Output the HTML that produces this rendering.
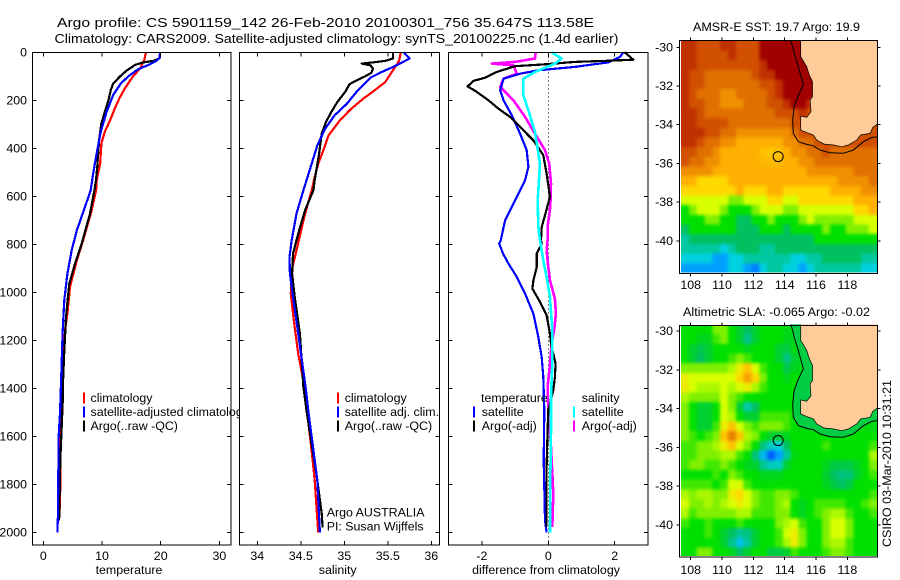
<!DOCTYPE html>
<html lang="en">
<head>
<meta charset="utf-8">
<title>Argo profile</title>
<style>
html,body{margin:0;padding:0;background:#fff;}
svg{display:block;font-family:"Liberation Sans",sans-serif;font-size:12.4px;fill:#000;}
</style>
</head>
<body>
<svg id="chart" xmlns="http://www.w3.org/2000/svg" width="900" height="580" viewBox="0 0 900 580">
  <defs>
    <clipPath id="legend-clip"><rect x="0" y="0" width="239" height="580"></rect></clipPath>
    <clipPath id="sst-clip"><rect x="681" y="41" width="196.5" height="231.5"></rect></clipPath>
    <clipPath id="sla-clip"><rect x="681" y="326" width="196.5" height="230"></rect></clipPath>
    <filter id="map-smooth" x="-10%" y="-10%" width="120%" height="120%" color-interpolation-filters="sRGB"><feGaussianBlur stdDeviation="1.7"></feGaussianBlur></filter>
  </defs>
  <rect x="0" y="0" width="900" height="580" fill="#fff"></rect>
</svg>
<script>
// ---- Tick labels ----
const depthTicks = [0,200,400,600,800,1000,1200,1400,1600,1800,2000];
const tempTicks = [0,10,20,30];
const salTicks = [34,34.5,35,35.5,36];
const diffTicks = [-2,0,2];
const lonTicks = [108,110,112,114,116,118];
const latTicks = [-30,-32,-34,-36,-38,-40];

// ---- Temperature panel ----
const climTempDepth = [0,32,67,100,150,190,233,282,330,379,462,532,575,658,783,867,978,1089,1158,1367,1575,1812,1940];
const climTemp = [17.5,17.2,16.5,15.3,13.9,13,12.2,11.4,10.5,9.9,9.7,9.1,9,8.24,6.8,5.7,4.55,4.1,3.7,3.3,2.9,2.9,2.75];
const argoTempDepth = [0,25,36,42,53,76,100,130,157,199,247,296,365,476,530,575,672,797,881,964,1103,1270,1408,1458,1700,1900,1950];
const argoTemp = [19.9,19.8,18.75,17,15.6,14.2,13.1,11.9,11.5,11.1,10.5,9.9,9.5,9.2,9,8.7,7.95,6.54,5.4,4.43,3.87,3.53,3.3,3.3,2.9,2.75,2.7];
const satTempDepth = [0,20,35,53,70,100,130,178,247,330,421,504,575,644,742,825,922,1033,1158,1394,1504,1604,1771,1921,2000];
const satTemp = [19.9,19.9,19.3,17.9,16.2,14.5,13.2,11.9,10.8,9.8,9.1,8.5,8.07,7.1,5.7,4.84,4.1,3.58,3.3,3,2.85,2.6,2.55,2.5,2.4];

// ---- Salinity panel ----
const climSalDepth = [0,36,75,124,158,193,235,283,346,408,464,519,575,672,825,908,1006,1117,1256,1367,1504,1644,1783,2000];
const climSal = [35.65,35.63,35.56,35.47,35.35,35.22,35.08,34.95,34.82,34.76,34.7,34.66,34.625,34.55,34.45,34.395,34.385,34.42,34.47,34.53,34.575,34.62,34.66,34.7];
const argoSalDepth = [0,26,36,42,47,54,68,86,100,117,133,165,207,249,290,339,422,533,575,658,756,839,922,1019,1172,1394,1504,1783,1921,1979];
const argoSal = [35.56,35.56,35.47,35.33,35.2,35.3,35.33,35.31,35.24,35.14,35.06,35.01,34.92,34.85,34.79,34.74,34.71,34.66,34.645,34.55,34.47,34.41,34.4,34.43,34.49,34.53,34.57,34.69,34.74,34.75];
const satSalDepth = [0,26,58,82,106,165,214,262,318,388,471,575,672,783,853,922,1019,1172,1408,1504,1644,1783,2000];
const satSal = [35.68,35.75,35.58,35.43,35.3,35.14,35.03,34.89,34.78,34.69,34.62,34.53,34.45,34.395,34.37,34.375,34.41,34.47,34.56,34.59,34.64,34.69,34.72];

// ---- Difference panel ----
const diffTempSatDepth = [0,19,42,61,75,89,110,158,200,262,339,408,478,533,631,700,783,797,839,881,936,1006,1089,1186,1270,1353,1492,1700,1950,2000];
const diffTempSat = [2.26,2.16,1.8,0.8,-0.3,-0.85,-1.35,-1.45,-1.35,-1.1,-0.85,-0.65,-0.6,-0.7,-1.05,-1.3,-1.43,-1.48,-1.36,-1.2,-0.95,-0.7,-0.45,-0.3,-0.2,-0.15,-0.12,-0.14,-0.1,-0.05];
const diffTempArgoDepth = [0,31,36,40,50,58,82,106,119,142,161,200,235,269,318,367,429,505,603,679,728,783,797,839,895,950,985,1040,1096,1173,1214,1256,1298,1353,1409,1492,1575,1728,1978];
const diffTempArgo = [2.3,2.56,1.7,0.8,-0.1,-1,-1.56,-1.9,-2.26,-2.43,-2.2,-1.8,-1.5,-1.15,-0.8,-0.45,-0.15,-0.05,0.05,-0.1,-0.2,-0.22,-0.2,-0.35,-0.35,-0.45,-0.48,-0.25,-0.05,0.05,0.08,0.15,0.22,0.2,0.15,0,-0.02,-0.05,-0.05];
const diffSalSatDepth = [0,26,47,82,110,179,242,332,464,617,728,783,867,936,1020,1159,1298,1436,1575,1784,2000];
const diffSalSat = [0.1,0.4,0.2,-0.4,-0.75,-0.75,-0.6,-0.4,-0.25,-0.32,-0.3,-0.25,-0.15,-0.05,0.05,0.12,0.12,0.08,0.08,0.06,0.05];
const diffSalArgoDepth = [0,26,40,47,54,89,110,144,200,269,339,408,464,547,644,728,783,825,895,950,1027,1089,1152,1214,1298,1395,1492,1645,1839,1978];
const diffSalArgo = [-0.38,-0.4,-1,-1.7,-1.05,-0.95,-1.35,-1.45,-1.05,-0.7,-0.4,-0.1,0.03,0.08,0.06,-0.02,-0.02,-0.05,0,0.05,0.2,0.23,0.18,0.1,0.05,-0.02,0,0.08,0.15,0.12];

// ---- Map data: colour levels on a 0.5 degree grid, north to south, west to east; null = land ----
const _ = null;
const sstLevels = [
[13,13,12,12,12,13,13,12,12,12,14,14,14,14,14,_,_,_,_,_,_,_,_,_,_],
[13,13,12,12,12,12,13,12,12,12,14,14,14,14,14,_,_,_,_,_,_,_,_,_,_],
[13,13,12,12,12,12,12,12,12,12,13,14,14,14,14,14,_,_,_,_,_,_,_,_,_],
[13,12,12,11,11,11,11,11,11,12,13,13,14,14,14,14,_,_,_,_,_,_,_,_,_],
[13,12,12,11,11,11,11,11,11,11,12,12,13,14,14,14,14,_,_,_,_,_,_,_,_],
[13,12,11,11,11,10,10,11,11,11,11,12,13,14,14,14,14,_,_,_,_,_,_,_,_],
[13,12,12,11,11,10,10,10,11,11,11,12,12,13,14,14,13,_,_,_,_,_,_,_,_],
[13,13,12,11,11,11,11,11,11,11,11,11,12,12,12,13,12,_,_,_,_,_,_,_,_],
[13,13,12,12,12,12,11,11,11,11,11,11,11,11,12,12,_,_,_,_,_,_,_,_,_],
[13,13,13,12,12,11,11,10,10,10,10,10,10,10,11,12,12,12,_,_,_,_,_,_,12],
[13,13,12,11,11,10,10,9,9,9,9,9,9,10,10,11,11,12,12,12,12,12,12,12,12],
[12,12,11,11,10,9,9,9,9,9,8.6,8.5,8.6,9,10,10,11,11,12,11,11,11,11,11,11],
[12,11,11,10,10,9,9,9,9,9,8.8,8.7,8.8,9,9,10,10,11,11,11,11,11,11,11,11],
[10,10,10,10,9,9,9,9,9,9,9,9,9,9,9,9,10,10,10,10,10,10,11,11,11],
[9,9,8,8,8,8,9,9,9,9,9,9,9,9,9,9,9,9,9,9,10,10,10,10,11],
[8,8,8,8,8,8,8,9,8,8,8,9,9,8,8,8,8,8,8,9,9,9,9,10,10],
[7,7,7,7,7,7,6,6,7,7,7,8,8,7,7,8,8,8,8,8,8,8,9,9,9],
[5,6,7,7,7,6,5,5,5,6,7,7,7,6,6,7,7,7,7,7,7,7,8,8,9],
[5,5,5,6,6,5,5,4,4,5,5,6,5,5,5,6,7,6,6,6,6,6,7,7,7],
[4,5,5,5,5,5,5,4,4,4,5,5,5,4,5,5,5,5,6,5,5,6,6,6,7],
[3,4,4,4,4,4,4,4,4,4,4,4,4,4,4,4,4,5,5,5,5,5,5,5,5],
[3,3,3,3,3,2,3,4,4,4,3,3,4,4,4,4,4,4,4,4,4,4,4,4,4],
[2,2,2,2,1,1,2,2,3,3,3,3,3,3,2,2,3,3,4,4,4,4,4,3,3],
[1,1,1,1,1,1,2,2,1,0.5,2,3,3,2,2,1,2,3,3,3,3,3,3,2,2]
];
const slaLevels = [
[5,5,5,5,6,6,5,4.5,4,4.5,5,5,5,4.8,4.8,_,_,_,_,_,_,_,_,_,_],
[5,5,4.7,4.7,5.5,6,5,4.5,3.3,4.5,5,5,5,4.7,4.7,_,_,_,_,_,_,_,_,_,_],
[5,4.5,4.2,4.5,5,5,5,5,4.7,5,5,5,4.5,4.3,4.8,4.8,_,_,_,_,_,_,_,_,_],
[5,4.5,4,4.5,5,5,5.5,6,5.5,5,5,5,4.5,3.4,4.5,4.8,_,_,_,_,_,_,_,_,_],
[6,6,6,6,6,6,6.5,7.5,8.5,7,5.5,5,5,4.2,4.7,4.8,4.8,_,_,_,_,_,_,_,_],
[7.5,7,7,7,7,7,7,8,9.5,8,6,5,5,4.7,5,4.8,4.8,_,_,_,_,_,_,_,_],
[7.5,7,6.5,6.5,6.5,7,6.5,7,7.5,6.5,5.5,5,5,5,5,5,4.8,_,_,_,_,_,_,_,_],
[6.5,6,6,6,6,7,6,5.5,5,5,5,5,5,5,5,5,4.8,_,_,_,_,_,_,_,_],
[6,5,4.5,4.5,5,7,6,4.5,2.8,4,5,5,5,5,5,5,_,_,_,_,_,_,_,_,_],
[6,5,4.5,4.5,5,7,6.5,5,4.5,4.5,5.5,5.5,5.5,5.5,5,4.8,4.8,4.8,_,_,_,_,_,_,4.8],
[6,5,4.5,4.5,5.5,7.5,8.5,7,6,5.5,6,6,6,5.5,5,4.8,4.8,4.8,4.8,4.8,4.8,4.8,4.8,4.8,4.8],
[6,5.5,5,5.5,6,8.5,10.5,8.5,6.5,6,5,4.5,4.5,4.7,5,5,5,5,5,5,5,5,5,5,5],
[5.5,5.5,6,6,6.5,7.5,8.5,7,6,5,3.5,2.5,2,4,5,5,5,5,5.5,5,5,5,5,5,5.5],
[5.5,5.5,6,6,6,6.5,6.5,5.5,5,3.5,1.5,0,1,3,4.8,5,5,5,5,5,5,5,5,5,6.5],
[5.5,6,6,5.5,5.5,6,5.5,5,4.7,4.5,3.2,2.5,2.5,4.5,5,5,5,5,4.7,4.3,4.3,4.3,4.7,5,6],
[5,5,5,5,5.5,5,6,5.5,5,5,4.7,4.7,4.7,5,5,5,5,5,4.5,4,3.5,3.6,4.5,5,5.5],
[5.5,5.5,5.5,5.5,5,5.5,7,7,5.5,5,5,5,5,5,5,5,5,5,4.7,4.3,4,4.3,5,5,5],
[6.5,6,6.5,6.5,6,6,7.5,8,7,6,5.5,5.5,6,6,5.5,5,5,5,5,5,5,5,5,5,5.5],
[7,6,6,6.5,6,6.5,7,7.5,7,6,5.5,5.5,6,6.5,5,4.7,5,5.5,5.5,5.5,5.5,5,5,5.5,6],
[6.5,5.5,6,6,6,6,6,6.5,6.5,5.5,5.5,5.5,6,6,5,4.7,5,5.5,6,6.5,6.5,5.5,5,5,5.5],
[5.5,5,5,5.5,5,5,5,5.5,5,5,5,5,6,6.5,7,5.5,5,5,6,7,7,6,5,5,5],
[5,5,5,5.5,5,4.5,4,3.2,3.5,4.5,5,5,5.5,7,7.5,6,5,5,6,7,7,6,5,5,5],
[5,5,5,5,5,4.5,3.2,1.7,3,4.5,5,5,5.5,6.5,7.5,6,5,5,6,6.5,6.5,5.5,5,5,5],
[5,5,6,6,5,5,4.7,4,4.5,5,5,4.3,4.3,4.5,5.5,5,5,5,5.5,6,6,5.5,5,5,5]
];
const coastLon = [115.02,115.02,115.4,115.57,115.77,115.77,115.62,115.68,115.4,115.02,115.02,115.4,115.83,116.04,116.51,117.11,117.64,118.06,118.6,118.85,119.45,119.62,119.91];
const coastLat = [-29.66,-30.48,-31,-31.43,-31.78,-32.55,-32.72,-33.33,-33.62,-33.55,-34.28,-34.41,-34.53,-34.79,-35,-35.05,-35.14,-35.05,-34.79,-34.53,-34.45,-34.14,-33.97];
const contourLon = [114.38,114.51,114.6,114.81,114.98,115.19,114.87,114.6,114.51,114.55,114.87,115.4,115.83,116.26,116.89,117.74,118.38,119.02,119.55,119.91];
const contourLat = [-29.66,-29.97,-30.31,-30.83,-31.34,-31.95,-32.47,-33.07,-33.76,-34.45,-34.88,-35.02,-35.09,-35.31,-35.45,-35.48,-35.31,-34.88,-34.66,-34.62];
const argoLon = 113.58;
const argoLat = -35.647;

// ---- Colour scale for the map levels ----
const paletteStops = ['#0060ff','#00a0ff','#00d0e0','#00c8a0','#00c060','#00e000','#80f000','#d8ff00','#ffd800','#ffb000','#f09000','#e07000','#d05000','#c03000','#a00000'];

const svg = document.getElementById('chart');
const NS = 'http://www.w3.org/2000/svg';
function make(tag, attrs, parent) {
  const e = document.createElementNS(NS, tag);
  for (const k in attrs) e.setAttribute(k, attrs[k]);
  (parent || svg).appendChild(e);
  return e;
}
function levelColor(v) {
  const i = Math.max(0, Math.min(paletteStops.length - 2, Math.floor(v)));
  const t = Math.max(0, Math.min(1, v - i));
  const a = paletteStops[i], b = paletteStops[i + 1];
  const ch = s => [1, 3, 5].map(p => parseInt(s.substr(p, 2), 16));
  const ca = ch(a), cb = ch(b);
  return 'rgb(' + ca.map((c, n) => Math.round(c + (cb[n] - c) * t)).join(',') + ')';
}
function addText(str, x, y, anchor, parent, name) {
  const t = make('text', {x: x, y: y, 'text-anchor': anchor || 'start'}, parent);
  t.textContent = str;
  
  
  return t;
}
function addTick(x1, y1, x2, y2, parent) {
  const l = make('line', {x1: x1, y1: y1, x2: x2, y2: y2, stroke: '#000', 'stroke-width': 1, 'shape-rendering': 'crispEdges'}, parent);
  
  
}

// ---- Titles ----
const title1 = addText('Argo profile: CS 5901159_142 26-Feb-2010 20100301_756 35.647S 113.58E', 57, 27, 'start', svg, 'figure-title-line-1');
title1.setAttribute('textLength', '537');
title1.setAttribute('lengthAdjust', 'spacingAndGlyphs');
title1.setAttribute('font-size', '13');
const title2 = addText('Climatology: CARS2009. Satellite-adjusted climatology: synTS_20100225.nc (1.4d earlier)', 54.5, 43, 'start', svg, 'figure-title-line-2');
title2.setAttribute('textLength', '564');
title2.setAttribute('lengthAdjust', 'spacingAndGlyphs');
title2.setAttribute('font-size', '13');

// ---- Profile panels ----
const plotTop = 52.5, plotBottom = 545;
const depthY = d => 52.3 + d * 0.24;

function drawPanel(cfg) {
  const g = make('g', {});
  
  
  const bg = make('rect', {x: cfg.left, y: plotTop, width: cfg.right - cfg.left, height: plotBottom - plotTop, fill: '#fff'}, g);
  
  
  if (cfg.zeroLine) {
    const z = make('line', {x1: cfg.x(0), y1: plotTop, x2: cfg.x(0), y2: plotBottom, stroke: '#000', 'stroke-dasharray': '1 3', 'stroke-width': 1, 'shape-rendering': 'crispEdges'}, g);
    
    
  }
  cfg.series.forEach(function (s) {
    const pts = s.values.map((v, i) => cfg.x(v).toFixed(1) + ',' + depthY(s.depth[i]).toFixed(1)).join(' ');
    const p = make('polyline', {points: pts, fill: 'none', stroke: s.color, 'stroke-width': s.width || 2.2, 'shape-rendering': 'crispEdges', 'stroke-linejoin': 'round'}, g);
    
    
  });
  const fr = make('rect', {x: cfg.left, y: plotTop, width: cfg.right - cfg.left, height: plotBottom - plotTop, fill: 'none', stroke: '#000', 'stroke-width': 1, 'shape-rendering': 'crispEdges'}, g);
  
  
  cfg.xTicks.forEach(function (v) {
    addTick(cfg.x(v), plotTop, cfg.x(v), plotTop + 4, g);
    addTick(cfg.x(v), plotBottom, cfg.x(v), plotBottom - 4, g);
    addText(String(v), cfg.x(v), 560, 'middle', g, 'x-tick-label');
  });
  depthTicks.forEach(function (d) {
    addTick(cfg.left, depthY(d), cfg.left + 4, depthY(d), g);
    addTick(cfg.right, depthY(d), cfg.right - 4, depthY(d), g);
    if (cfg.depthLabels) addText(String(d), 27, depthY(d) + 4, 'end', g, 'depth-tick-label');
  });
  addText(cfg.xLabel, cfg.xLabelX, 574, 'middle', g, 'x-axis-title');
  return g;
}
function legendEntry(g, color, label, swatchX, textX, baseline) {
  const s = make('rect', {x: swatchX - 1, y: baseline - 9.5, width: 2, height: 11, fill: color, 'shape-rendering': 'crispEdges'}, g);
  
  
  return addText(label, textX, baseline, 'start', g, 'legend-label');
}

const tempPanel = drawPanel({
  name: 'temperature-panel', left: 32.5, right: 231, depthLabels: true,
  x: v => 43.3 + v * 5.87, xTicks: tempTicks, xLabel: 'temperature', xLabelX: 129,
  series: [
    {name: 'climatology-temperature-line', depth: climTempDepth, values: climTemp, color: '#ff0000'},
    {name: 'argo-temperature-line', depth: argoTempDepth, values: argoTemp, color: '#000000'},
    {name: 'satellite-temperature-line', depth: satTempDepth, values: satTemp, color: '#0000ff'}
  ]
});
legendEntry(tempPanel, '#ff0000', 'climatology', 84, 90.5, 402);
const clippedLabel = legendEntry(tempPanel, '#0000ff', 'satellite-adjusted climatology', 84, 90.5, 416);
clippedLabel.setAttribute('clip-path', 'url(#legend-clip)');
legendEntry(tempPanel, '#000000', 'Argo(..raw -QC)', 84, 90.5, 430);

const salPanel = drawPanel({
  name: 'salinity-panel', left: 239.5, right: 439.5,
  x: v => 257.3 + (v - 34) * 87, xTicks: salTicks, xLabel: 'salinity', xLabelX: 337.7,
  series: [
    {name: 'climatology-salinity-line', depth: climSalDepth, values: climSal, color: '#ff0000'},
    {name: 'argo-salinity-line', depth: argoSalDepth, values: argoSal, color: '#000000'},
    {name: 'satellite-salinity-line', depth: satSalDepth, values: satSal, color: '#0000ff'}
  ]
});
legendEntry(salPanel, '#ff0000', 'climatology', 338, 344.7, 402);
legendEntry(salPanel, '#0000ff', 'satellite adj. clim.', 338, 344.7, 416);
legendEntry(salPanel, '#000000', 'Argo(..raw -QC)', 338, 344.7, 430);
addText('Argo AUSTRALIA', 326.7, 516.7, 'start', salPanel, 'data-source-label');
addText('PI: Susan Wijffels', 326.7, 530.7, 'start', salPanel, 'principal-investigator-label');

const diffPanel = drawPanel({
  name: 'difference-panel', left: 448.5, right: 648, zeroLine: true,
  x: v => 548.3 + v * 33.2, xTicks: diffTicks, xLabel: 'difference from climatology', xLabelX: 546,
  series: [
    {name: 'argo-salinity-difference-line', depth: diffSalArgoDepth, values: diffSalArgo, color: '#ff00ff', width: 2.6},
    {name: 'satellite-temperature-difference-line', depth: diffTempSatDepth, values: diffTempSat, color: '#0000ff'},
    {name: 'argo-temperature-difference-line', depth: diffTempArgoDepth, values: diffTempArgo, color: '#000000'},
    {name: 'satellite-salinity-difference-line', depth: diffSalSatDepth, values: diffSalSat, color: '#00ffff', width: 2.6}
  ]
});
addText('temperature', 481, 402, 'start', diffPanel, 'legend-heading-temperature');
legendEntry(diffPanel, '#0000ff', 'satellite', 474, 481.7, 416);
legendEntry(diffPanel, '#000000', 'Argo(-adj)', 474, 481.7, 430);
addText('salinity', 581.7, 402, 'start', diffPanel, 'legend-heading-salinity');
legendEntry(diffPanel, '#00ffff', 'satellite', 574, 581.7, 416);
legendEntry(diffPanel, '#ff00ff', 'Argo(-adj)', 574, 581.7, 430);

// ---- Maps ----
function drawMap(cfg) {
  const g = make('g', {});
  
  
  const lonX = lon => 690.7 + (lon - 108) * 15.67;
  const latY = lat => cfg.lat30Y + (-30 - lat) * cfg.yScale;
  const left = 679.5, right = 877.5;
  const startLon = 107.38, startLat = -29.66, step = 0.5, bleed = 14;
  const lineOf = (lons, lats) => lons.map((v, i) => lonX(v).toFixed(1) + ',' + latY(lats[i]).toFixed(1));

  const bg = make('rect', {x: left, y: cfg.top, width: right - left, height: cfg.bottom - cfg.top, fill: '#fff'}, g);
  
  

  const clipGroup = make('g', {'clip-path': 'url(#' + cfg.clip + ')'}, g);
  
  
  const cells = make('g', {filter: 'url(#map-smooth)'}, clipGroup);
  
  
  cfg.levels.forEach(function (row, r) {
    let last = row[0];
    row.forEach(function (v, c) {
      // land cells carry the last sea colour underneath the land polygon
      const val = v === null ? last : v;
      last = val;
      let x0 = lonX(startLon + c * step), x1 = lonX(startLon + (c + 1) * step);
      let y0 = latY(startLat - r * step), y1 = latY(startLat - (r + 1) * step);
      if (c === 0) x0 -= bleed;
      if (c === row.length - 1) x1 += bleed;
      if (r === 0) y0 -= bleed;
      if (r === cfg.levels.length - 1) y1 += bleed;
      const cell = make('rect', {x: x0.toFixed(2), y: y0.toFixed(2), width: (x1 - x0 + 0.3).toFixed(2), height: (y1 - y0 + 0.3).toFixed(2), fill: levelColor(val), 'shape-rendering': 'crispEdges'}, cells);
      
      
    });
  });

  if (cfg.shelfColor) {
    const shelfPts = lineOf(contourLon, contourLat).concat(lineOf(coastLon, coastLat).reverse()).join(' ');
    const shelf = make('polygon', {points: shelfPts, fill: cfg.shelfColor}, g);
    
    
  }

  const landPts = lineOf(coastLon, coastLat).join(' ') + ' ' + lonX(119.91).toFixed(1) + ',' + latY(-29.66).toFixed(1);
  const land = make('polygon', {points: landPts, fill: '#ffcc99'}, g);
  
  

  const coast = make('polyline', {points: lineOf(coastLon, coastLat).join(' '), fill: 'none', stroke: '#000', 'stroke-width': 0.7}, g);
  
  

  const contour = make('polyline', {points: lineOf(contourLon, contourLat).join(' '), fill: 'none', stroke: '#000', 'stroke-width': 1}, g);
  
  

  const marker = make('circle', {cx: lonX(argoLon), cy: latY(argoLat), r: 5, fill: 'none', stroke: '#000', 'stroke-width': 1}, g);
  
  

  const fr = make('rect', {x: left, y: cfg.top, width: right - left, height: cfg.bottom - cfg.top, fill: 'none', stroke: '#000', 'stroke-width': 1, 'shape-rendering': 'crispEdges'}, g);
  
  

  lonTicks.forEach(function (lon) {
    addTick(lonX(lon), cfg.top, lonX(lon), cfg.top - 3, g);
    addTick(lonX(lon), cfg.bottom, lonX(lon), cfg.bottom + 3, g);
    addText(String(lon), lonX(lon), cfg.xLabelY, 'middle', g, 'longitude-tick-label');
  });
  latTicks.forEach(function (lat) {
    addTick(left, latY(lat), left - 3, latY(lat), g);
    addTick(right, latY(lat), right + 3, latY(lat), g);
    addText(String(lat), 673, latY(lat) + 4, 'end', g, 'latitude-tick-label');
  });
  const heading = addText(cfg.title, cfg.titleX, cfg.titleY, 'start', g, 'map-title');
  heading.setAttribute('textLength', cfg.titleWidth);
  heading.setAttribute('lengthAdjust', 'spacingAndGlyphs');
}
drawMap({name: 'sst-map', levels: sstLevels, clip: 'sst-clip', lat30Y: 47.3, yScale: 19.35, top: 40.5, bottom: 273.5, xLabelY: 289, title: 'AMSR-E SST: 19.7 Argo: 19.9', titleX: 693, titleWidth: 167, titleY: 31});
drawMap({name: 'sla-map', levels: slaLevels, clip: 'sla-clip', lat30Y: 331, yScale: 19.4, top: 325.5, bottom: 557, xLabelY: 574, title: 'Altimetric SLA: -0.065 Argo: -0.02', titleX: 683, titleWidth: 187, titleY: 316, shelfColor: '#00cc44'});

const stamp = make('text', {transform: 'translate(891,547) rotate(-90)', 'text-anchor': 'start', textLength: '167', lengthAdjust: 'spacingAndGlyphs'});
stamp.textContent = 'CSIRO 03-Mar-2010 10:31:21';


</script>
</body>
</html>
